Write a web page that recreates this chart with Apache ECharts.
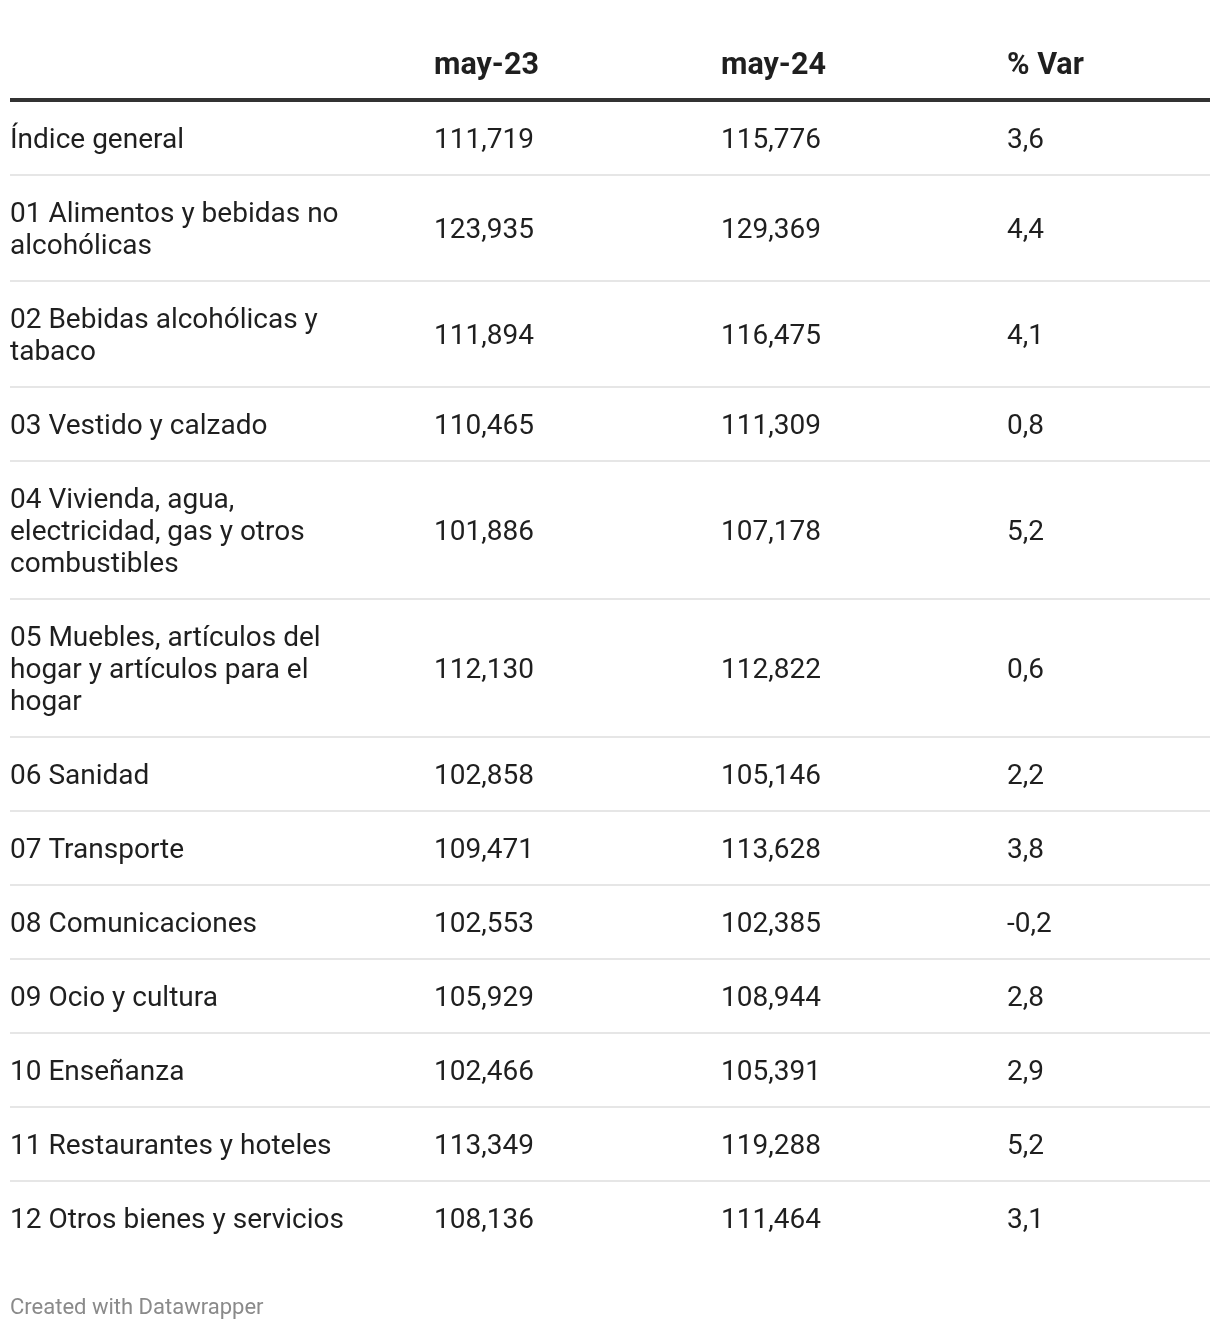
<!DOCTYPE html>
<html>
<head>
<meta charset="utf-8">
<script src="https://cdn.jsdelivr.net/npm/echarts@6/dist/echarts.min.js"></script>
<style>
html,body{margin:0;padding:0;background:#fff;}
#chart{width:1220px;height:1330px;}
</style>
</head>
<body>
<div id="chart"></div>
<script>
// ---- data ----
var headers = ['', 'may-23', 'may-24', '% Var'];
var categories = [
  'Índice general',
  '01 Alimentos y bebidas no alcohólicas',
  '02 Bebidas alcohólicas y tabaco',
  '03 Vestido y calzado',
  '04 Vivienda, agua, electricidad, gas y otros combustibles',
  '05 Muebles, artículos del hogar y artículos para el hogar',
  '06 Sanidad',
  '07 Transporte',
  '08 Comunicaciones',
  '09 Ocio y cultura',
  '10 Enseñanza',
  '11 Restaurantes y hoteles',
  '12 Otros bienes y servicios'
];
var may23 = ['111,719','123,935','111,894','110,465','101,886','112,130','102,858','109,471','102,553','105,929','102,466','113,349','108,136'];
var may24 = ['115,776','129,369','116,475','111,309','107,178','112,822','105,146','113,628','102,385','108,944','105,391','119,288','111,464'];
var pctVar = ['3,6','4,4','4,1','0,8','5,2','0,6','2,2','3,8','-0,2','2,8','2,9','5,2','3,1'];
var footer = 'Created with Datawrapper';

(function () {
  // ---- layout ----
  var FONT = 'Roboto, "Noto Sans", sans-serif';
  var FS = 28, HFS = 30.5, LH = 32;
  var colX = [10, 434, 721, 1007];
  var left = 10, right = 1210;
  var labelWidth = 360;
  var textColor = '#1f1f1f';
  var dy = 2.5;

  var ctx = document.createElement('canvas').getContext('2d');
  ctx.font = FS + 'px ' + FONT;
  function wrap(s) {
    var words = s.split(' '), lines = [], cur = '';
    for (var w = 0; w < words.length; w++) {
      var test = cur ? cur + ' ' + words[w] : words[w];
      if (cur && ctx.measureText(test).width > labelWidth) { lines.push(cur); cur = words[w]; }
      else cur = test;
    }
    if (cur) lines.push(cur);
    return lines;
  }

  var chart = echarts.init(document.getElementById('chart'), null, {renderer: 'canvas'});
  var els = [];

  for (var c = 1; c < headers.length; c++) {
    els.push({type: 'text', x: colX[c], y: 64 + dy, style: {text: headers[c], font: 'bold ' + HFS + 'px ' + FONT, fill: textColor, verticalAlign: 'middle', align: 'left'}});
  }
  els.push({type: 'line', shape: {x1: left, y1: 100, x2: right, y2: 100}, style: {stroke: '#333333', lineWidth: 4}});

  var rowTop = 101;
  var cols = [may23, may24, pctVar];
  for (var i = 0; i < categories.length; i++) {
    var lines = wrap(categories[i]);
    var h = 42 + LH * lines.length;
    var cy = rowTop + h / 2 + dy;
    els.push({type: 'text', x: colX[0], y: cy, style: {text: lines.join('\n'), font: FS + 'px ' + FONT, lineHeight: LH, fill: textColor, verticalAlign: 'middle', align: 'left'}});
    for (var k = 0; k < cols.length; k++) {
      els.push({type: 'text', x: colX[k + 1], y: cy, style: {text: cols[k][i], font: FS + 'px ' + FONT, fill: textColor, verticalAlign: 'middle', align: 'left'}});
    }
    rowTop += h;
    if (i < categories.length - 1) {
      els.push({type: 'line', shape: {x1: left, y1: rowTop, x2: right, y2: rowTop}, style: {stroke: '#e6e6e6', lineWidth: 2}});
    }
  }

  els.push({type: 'text', x: 10, y: 1306 + 2, style: {text: footer, font: '22px ' + FONT, fill: '#8a8a8a', verticalAlign: 'middle', align: 'left'}});

  chart.setOption({
    backgroundColor: '#ffffff',
    animation: false,
    graphic: {elements: els}
  });
})();
</script>
</body>
</html>
